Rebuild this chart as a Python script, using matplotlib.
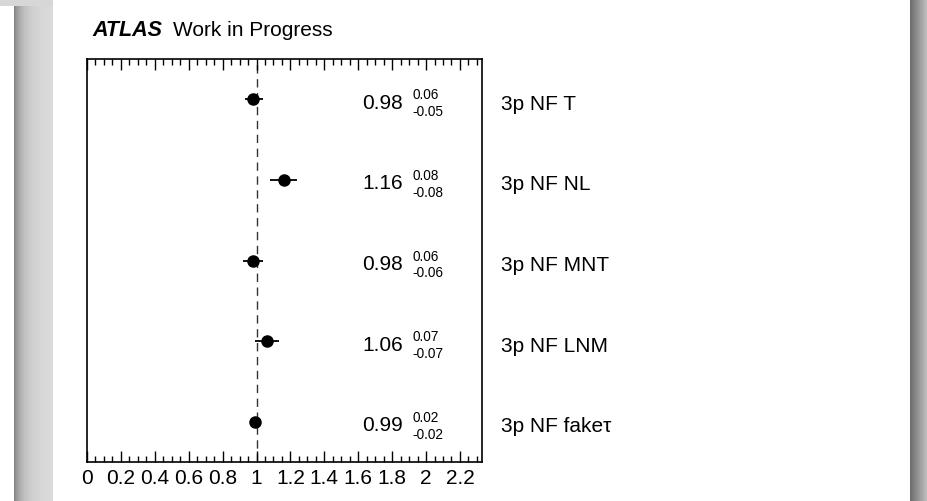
import numpy as np
import matplotlib
matplotlib.use("Agg")
import matplotlib.pyplot as plt
from matplotlib.ticker import MultipleLocator

plt.rcParams['font.family'] = ['Liberation Sans', 'DejaVu Sans']

# fitted normalisation factors, top to bottom
labels = ["3p NF T", "3p NF NL", "3p NF MNT", "3p NF LNM", "3p NF fake\u03c4"]
values = [0.98, 1.16, 0.98, 1.06, 0.99]
err_up = [0.06, 0.08, 0.06, 0.07, 0.02]
err_dn = [0.05, 0.08, 0.06, 0.07, 0.02]
xticks = [0, 0.2, 0.4, 0.6, 0.8, 1, 1.2, 1.4, 1.6, 1.8, 2, 2.2]

W, H = 927, 502
fig = plt.figure(figsize=(W / 100, H / 100), dpi=100)

# slide background: grey shadow strips on both sides
bg = fig.add_axes([0, 0, 1, 1])
bg.set_axis_off()
img = np.ones((H, W))
xs = np.arange(W)
left = (xs >= 14) & (xs < 53)
t = (xs[left] - 14) / 39.0
img[:, left] = 0.82 - 0.30 * np.exp(-t * 5) + 0.04 * t
img[:7, :53] = 0.84
right = xs >= 910
t2 = (xs[right] - 910) / 17.0
img[:, right] = 0.43 + 0.33 * t2
bg.imshow(img, cmap='gray', vmin=0, vmax=1, aspect='auto', interpolation='bilinear')

ax = fig.add_axes([87 / W, 39 / H, 395 / W, 403 / H])
n = len(values)
ypos = [n - 0.5 - i for i in range(n)]

ax.axvline(1.0, color='#333333', lw=1.0, dashes=(6, 4), zorder=1)
ax.errorbar(values, ypos, xerr=[err_dn, err_up], fmt='o', color='black',
            ms=8, elinewidth=1.3, capsize=0, zorder=3)

for y, v, u, d, lab in zip(ypos, values, err_up, err_dn, labels):
    ax.text(1.862, y - 0.037, f"{v:.2f}", ha='right', va='center', fontsize=15)
    ax.text(1.921, y + 0.062, f"{u:.2f}", ha='left', va='center', fontsize=9.8)
    ax.text(1.921, y - 0.148, f"-{d:.2f}", ha='left', va='center', fontsize=9.8)
    ax.text(2.445, y - 0.05, lab, ha='left', va='center', fontsize=15, clip_on=False)

ax.set_xlim(0, 2.33)
ax.set_ylim(0, n)
ax.set_xticks(xticks)
ax.set_xticklabels([f"{x:g}" for x in xticks])
ax.xaxis.set_minor_locator(MultipleLocator(0.05))
ax.set_yticks([])
ax.tick_params(axis='x', which='both', direction='in', top=True, labelsize=15, pad=4)
ax.tick_params(axis='x', which='major', length=8, width=1)
ax.tick_params(axis='x', which='minor', length=4, width=1)
for s in ax.spines.values():
    s.set_linewidth(1.2)

fig.text(92 / W, 1 - 36 / H, "ATLAS", fontsize=15.5, fontweight='bold', fontstyle='italic',
         va='baseline', ha='left')
fig.text(173 / W, 1 - 36 / H, "Work in Progress", fontsize=15, va='baseline', ha='left')

fig.savefig("out.png", dpi=100)
